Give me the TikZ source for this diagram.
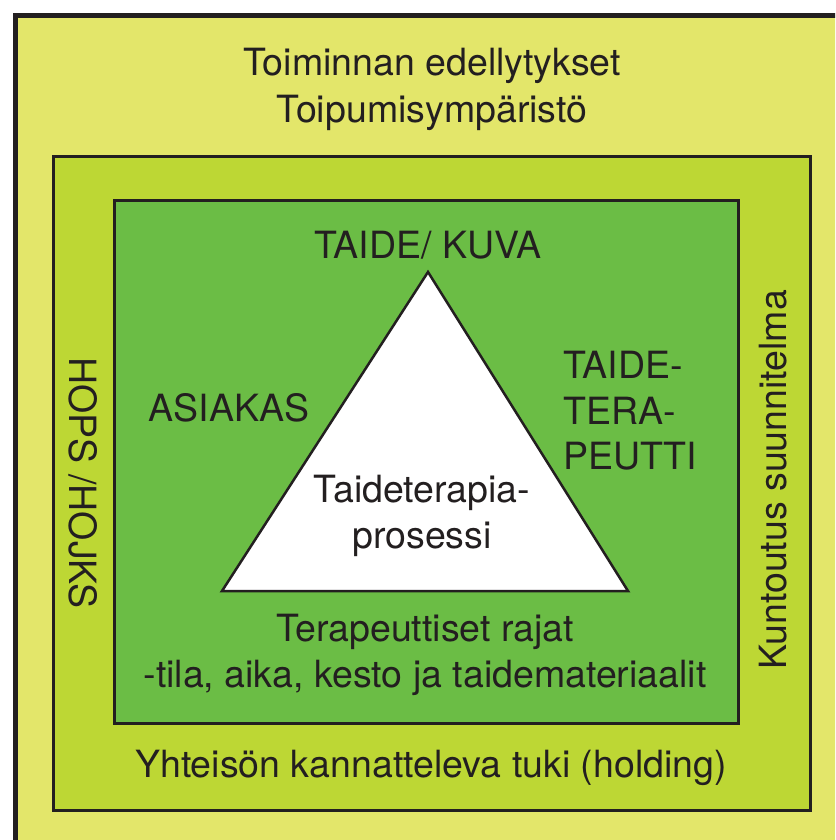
\documentclass[tikz,border=0pt]{standalone}
\usepackage{fontspec}
\setmainfont{TeX Gyre Heros}
\usepackage{tikz}
\definecolor{outeryellow}{HTML}{E3E66A}
\definecolor{midgreen}{HTML}{BDD734}
\definecolor{innergreen}{HTML}{6BBD45}
\definecolor{inkblack}{HTML}{231F20}
\tikzset{
  frame box/.style={draw=inkblack,line width=3pt},
  main text/.style={font=\fontsize{37.5}{45.5}\selectfont,text=inkblack,align=center,inner sep=0pt},
  side text/.style={main text,align=left}
}

\begin{document}
\begin{tikzpicture}[x=1pt,y=-1pt]
  \useasboundingbox (0,0) rectangle (835,840);
  \clip (0,0) rectangle (835,840);
  % boxes
  \fill[white] (0,0) rectangle (835,840);
  \draw[frame box,fill=outeryellow,line width=5pt] (15.5,15.5) rectangle (860,870);
  \draw[frame box,fill=midgreen] (53.5,156.5) rectangle (810,810);
  \draw[frame box,fill=innergreen] (114.5,200.5) rectangle (738,723);
  \draw[draw=inkblack,line width=2.5pt,fill=white,line join=miter]
     (428,272) -- (222,591) -- (628,591) -- cycle;
  % texts
  \node[main text] (cond) at (432,66) {Toiminnan edellytykset};
  \node[main text] (env) at (432,113) {Toipumisympäristö};
  \node[main text] (art) at (428,245) {TAIDE/ KUVA};
  \node[main text] (client) at (229,408) {ASIAKAS};
  \node[side text,anchor=west] (therapist) at (563,411) {TAIDE-\\TERA-\\PEUTTI};
  \node[main text] (process) at (422,516) {Taideterapia-\\prosessi};
  \node[main text] (limits) at (425,655) {Terapeuttiset rajat\\-tila, aika, kesto ja taidemateriaalit};
  \node[main text] (holding) at (431,768) {Yhteisön kannatteleva tuki (holding)};
  \node[main text,rotate=-90] (hops) at (83,483) {HOPS /HOJKS};
  \node[main text,rotate=90] (rehab) at (773,480) {Kuntoutus suunnitelma};
\end{tikzpicture}
\end{document}
